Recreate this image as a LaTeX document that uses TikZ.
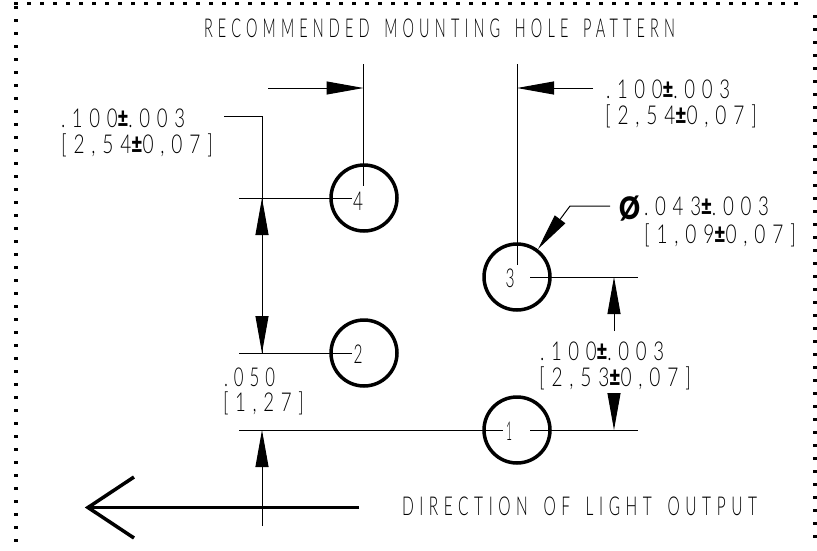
\documentclass[tikz,border=0pt]{standalone}
\usepackage{fontspec}
\usepackage{graphicx}
\setmainfont{Lato}[UprightFont=* Light,BoldFont=* Black,WordSpace=1.6]
\usetikzlibrary{arrows.meta}
\newcommand{\sfit}[2]{\resizebox{#1pt}{\height}{\addfontfeature{LetterSpace=36}#2}}
\newcommand{\numfit}[2]{\resizebox{#1pt}{\height}{#2}}
\newcommand{\plm}{{\bfseries ±}}
\tikzset{
  dim/.style={line width=1pt,black},
  tipped/.style={dim,-{Triangle[length=37pt,width=13pt,sep=0pt]}},
  hole/.style={circle,draw,line width=3.5pt,minimum size=66pt,inner sep=0pt,outer sep=0pt},
  lbl/.style={anchor=base west,inner sep=0pt,outer sep=0pt,font=\fontsize{26}{26}\selectfont,text=black},
  num/.style={anchor=base,inner sep=0pt,outer sep=0pt,font=\fontsize{26}{26}\selectfont,text=black},
  bold/.style={line width=3.5pt,black},
  dot/.style={fill=black,draw=none}
}
\begin{document}
\begin{tikzpicture}[x=1pt,y=-1pt]
\useasboundingbox (0,0) rectangle (817,550);
% border dots
\foreach \i in {0,...,60} {\fill[dot] ({16+13*\i-1.6},1.6) rectangle ++(3.2,3);}
\foreach \i in {0,...,41} {\fill[dot] (14.4,{7.8+13*\i-1.5}) rectangle ++(3.2,3);}
\foreach \i in {0,...,40} {\fill[dot] (813.4,{16.8+13*\i-1.5}) rectangle ++(3.2,3);}
% holes
\node[hole] (h4) at (364,198) {};
\node[hole] (h2) at (364,353) {};
\node[hole] (h3) at (517,277) {};
\node[hole] (h1) at (517,430) {};
\node[num] (n4) at (358,210) {\numfit{10}{4}};
\node[num] (n2) at (358,363) {\numfit{9}{2}};
\node[num] (n3) at (510,287) {\numfit{9}{3}};
\node[num] (n1) at (509,440) {\numfit{6}{1}};
% named ends
\coordinate (a1) at (363.5,64); \coordinate (a2) at (363.5,186);
\coordinate (a3) at (268,88);   \coordinate (a4) at (363.5,88);
\coordinate (b1) at (517,64);   \coordinate (b2) at (517,265);
\coordinate (b3) at (593,88);   \coordinate (b4) at (517,88);
\coordinate (c1) at (224,116);  \coordinate (c2) at (262,116);
\coordinate (c3) at (262,198);  \coordinate (c4) at (262,353);
\coordinate (c5) at (262,235);
\coordinate (d1) at (239,198);  \coordinate (d2) at (352,198);
\coordinate (d3) at (239,353);  \coordinate (d4) at (352,353);
\coordinate (e1) at (239,430);  \coordinate (e2) at (503,430);
\coordinate (e3) at (530,430);  \coordinate (e4) at (638,430);
\coordinate (e5) at (530,277);  \coordinate (e6) at (638,277);
\coordinate (f1) at (614,331);  \coordinate (f2) at (614,277);
\coordinate (f3) at (614,394);  \coordinate (f4) at (614,430);
\coordinate (g1) at (262,526);  \coordinate (g2) at (262,430);
\coordinate (p1) at (610,206);  \coordinate (p2) at (570,206);
\coordinate (p3) at (538,249);
\coordinate (q1) at (359,507.5);\coordinate (q2) at (88,507.5);
\coordinate (q3) at (134,477);  \coordinate (q4) at (134,538);
% extension lines
\draw[dim] (a1) -- (a2);
\draw[dim] (b1) -- (b2);
\draw[dim] (d1) -- (d2);
\draw[dim] (d3) -- (d4);
\draw[dim] (e1) -- (e2);
\draw[dim] (e3) -- (e4);
\draw[dim] (e5) -- (e6);
% dimension arrows
\draw[tipped] (a3) -- (a4);
\draw[tipped] (b3) -- (b4);
\draw[dim] (c1) -- (c2) -- (c4);
\draw[tipped] (c5) -- (c3);
\draw[tipped] (c3) -- (c4);
\draw[tipped] (f1) -- (f2);
\draw[tipped] (f3) -- (f4);
\draw[tipped] (g1) -- (g2);
\draw[tipped] (p1) -- (p2) -- (p3);
% direction arrow
\draw[bold] (q1) -- (q2);
\draw[bold,line join=miter] (q3) -- (q2) -- (q4);
% texts
\node[lbl] (t1) at (204,37) {\sfit{471}{RECOMMENDED MOUNTING HOLE PATTERN}};
\node[lbl] (t2) at (402,515) {\sfit{355}{DIRECTION OF LIGHT OUTPUT}};
\node[lbl] (t3) at (61,127) {\sfit{124}{.100\plm.003}};
\node[lbl] (t4) at (61,153) {\sfit{152}{[2,54\plm0,07]}};
\node[lbl] (t5) at (606,98) {\sfit{124}{.100\plm.003}};
\node[lbl] (t6) at (605,124) {\sfit{152}{[2,54\plm0,07]}};
\node[lbl,font=\fontsize{31}{31}\selectfont\bfseries] (t7) at (619,219) {\resizebox{21pt}{\height}{Ø}};
\node[lbl] (t8) at (644,215) {\sfit{125}{.043\plm.003}};
\node[lbl] (t9) at (644,243) {\sfit{152}{[1,09\plm0,07]}};
\node[lbl] (t10) at (224,386) {\sfit{51}{.050}};
\node[lbl] (t11) at (223,411) {\sfit{81}{[1,27]}};
\node[lbl] (t12) at (540,360) {\sfit{124}{.100\plm.003}};
\node[lbl] (t13) at (539,386) {\sfit{152}{[2,53\plm0,07]}};
\end{tikzpicture}
\end{document}
